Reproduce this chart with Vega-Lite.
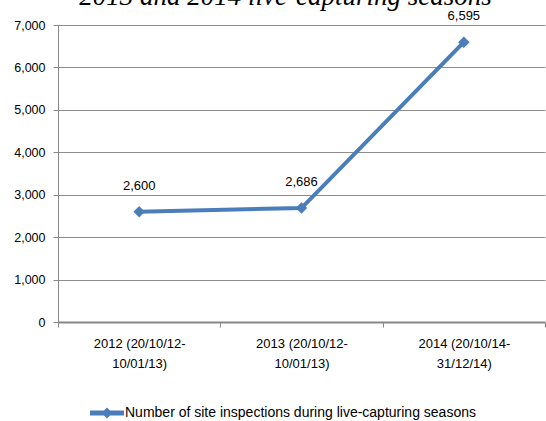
{
  "$schema": "https://vega.github.io/schema/vega-lite/v6.json",
  "width": 487,
  "height": 297,
  "autosize": "none",
  "padding": {"left": 58, "top": 25, "right": 1, "bottom": 99},
  "background": "white",
  "title": {
    "text": "2013 and 2014 live-capturing seasons",
    "font": "Liberation Serif",
    "fontStyle": "italic",
    "fontWeight": "normal",
    "fontSize": 27,
    "color": "black",
    "anchor": "middle",
    "baseline": "alphabetic",
    "offset": -22,
    "dx": -16
  },
  "data": {
    "values": [
      {"season": "2012 (20/10/12-|10/01/13)", "inspections": 2600, "series": "Number of site inspections during live-capturing seasons"},
      {"season": "2013 (20/10/12-|10/01/13)", "inspections": 2686, "series": "Number of site inspections during live-capturing seasons"},
      {"season": "2014 (20/10/14-|31/12/14)", "inspections": 6595, "series": "Number of site inspections during live-capturing seasons"}
    ]
  },
  "encoding": {
    "x": {
      "field": "season",
      "type": "nominal",
      "sort": null,
      "scale": {"paddingInner": 0, "paddingOuter": 0},
      "axis": {
        "title": null,
        "labelAngle": 0,
        "labelExpr": "datum.value ? split(datum.value, '|') : ''",
        "labelFont": "Liberation Sans",
        "labelFontSize": 13,
        "labelColor": "black",
        "labelPadding": 10,
        "labelLineHeight": 20,
        "tickBand": "extent",
        "tickColor": "#888888",
        "tickSize": 5,
        "domainColor": "#888888",
        "domainWidth": 2
      }
    },
    "y": {
      "field": "inspections",
      "type": "quantitative",
      "scale": {"domain": [0, 7000], "nice": false},
      "axis": {
        "title": null,
        "values": [0, 1000, 2000, 3000, 4000, 5000, 6000, 7000],
        "format": ",d",
        "labelFont": "Liberation Sans",
        "labelFontSize": 12.5,
        "labelColor": "black",
        "labelPadding": 8,
        "tickColor": "#888888",
        "tickSize": 5,
        "domainColor": "#888888",
        "gridColor": "#8c8c8c",
        "gridWidth": 1
      }
    }
  },
  "layer": [
    {
      "mark": {"type": "line", "strokeWidth": 4, "color": "#4a7ebb"},
      "encoding": {
        "color": {
          "field": "series",
          "type": "nominal",
          "scale": {"range": ["#4a7ebb"]},
          "legend": {
            "title": null,
            "orient": "none",
            "legendX": 32,
            "legendY": 371,
            "symbolType": "M-1,-0.14 H1 V0.14 H-1 Z M0,-0.33 L0.33,0 L0,0.33 L-0.33,0 Z",
            "symbolSize": 1156,
            "symbolFillColor": "#4a7ebb",
            "symbolStrokeColor": "#4a7ebb",
            "symbolStrokeWidth": 0,
            "symbolOpacity": 1,
            "labelFont": "Liberation Sans",
            "labelFontSize": 14,
            "labelColor": "black",
            "labelLimit": 600,
            "labelOffset": 1
          }
        }
      }
    },
    {
      "mark": {"type": "point", "shape": "diamond", "filled": true, "size": 130, "color": "#4a7ebb", "opacity": 1}
    },
    {
      "mark": {"type": "text", "dy": -26, "font": "Liberation Sans", "fontSize": 13, "color": "black"},
      "encoding": {"text": {"field": "inspections", "type": "quantitative", "format": ","}}
    }
  ],
  "config": {"view": {"stroke": null}}
}
